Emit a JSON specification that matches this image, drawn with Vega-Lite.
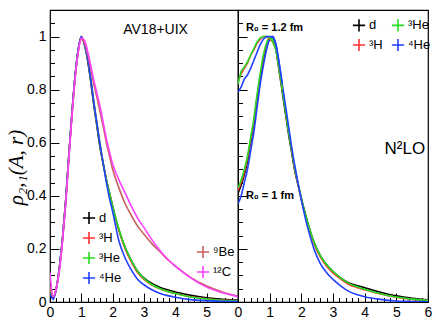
{
  "$schema": "https://vega.github.io/schema/vega-lite/v6.json",
  "padding": {"left": 4, "top": 8, "right": 0, "bottom": 0},
  "background": "white",
  "bounds": "flush",
  "datasets": {
    "left": [
      {"r":0,"d":0.04,"³H":0.05,"³He":0.05,"⁴He":0.03,"⁹Be":0.06,"¹²C":0.11},
      {"r":0.1,"d":0.015,"³H":0.02,"³He":0.02,"⁴He":0.01,"⁹Be":0.02,"¹²C":0.02},
      {"r":0.2,"d":0.05,"³H":0.05,"³He":0.05,"⁴He":0.05,"⁹Be":0.05,"¹²C":0.05},
      {"r":0.3,"d":0.13,"³H":0.13,"³He":0.13,"⁴He":0.13,"⁹Be":0.12,"¹²C":0.12},
      {"r":0.4,"d":0.24,"³H":0.24,"³He":0.24,"⁴He":0.24,"⁹Be":0.23,"¹²C":0.23},
      {"r":0.5,"d":0.38,"³H":0.38,"³He":0.38,"⁴He":0.38,"⁹Be":0.37,"¹²C":0.37},
      {"r":0.6,"d":0.55,"³H":0.55,"³He":0.55,"⁴He":0.55,"⁹Be":0.54,"¹²C":0.54},
      {"r":0.7,"d":0.71,"³H":0.71,"³He":0.71,"⁴He":0.71,"⁹Be":0.70,"¹²C":0.70},
      {"r":0.8,"d":0.85,"³H":0.85,"³He":0.85,"⁴He":0.85,"⁹Be":0.84,"¹²C":0.84},
      {"r":0.9,"d":0.95,"³H":0.95,"³He":0.95,"⁴He":0.95,"⁹Be":0.94,"¹²C":0.94},
      {"r":1.0,"d":1.0,"³H":1.0,"³He":1.0,"⁴He":1.0,"⁹Be":0.99,"¹²C":0.995},
      {"r":1.1,"d":0.97,"³H":0.97,"³He":0.97,"⁴He":0.97,"⁹Be":0.975,"¹²C":0.985},
      {"r":1.2,"d":0.91,"³H":0.92,"³He":0.92,"⁴He":0.92,"⁹Be":0.935,"¹²C":0.945},
      {"r":1.3,"d":0.83,"³H":0.84,"³He":0.84,"⁴He":0.84,"⁹Be":0.88,"¹²C":0.89},
      {"r":1.4,"d":0.74,"³H":0.75,"³He":0.75,"⁴He":0.75,"⁹Be":0.82,"¹²C":0.835},
      {"r":1.5,"d":0.66,"³H":0.67,"³He":0.67,"⁴He":0.67,"⁹Be":0.77,"¹²C":0.785},
      {"r":1.6,"d":0.58,"³H":0.59,"³He":0.59,"⁴He":0.59,"⁹Be":0.715,"¹²C":0.735},
      {"r":1.7,"d":0.52,"³H":0.52,"³He":0.52,"⁴He":0.52,"⁹Be":0.66,"¹²C":0.675},
      {"r":1.8,"d":0.46,"³H":0.46,"³He":0.46,"⁴He":0.45,"⁹Be":0.60,"¹²C":0.615},
      {"r":1.9,"d":0.41,"³H":0.41,"³He":0.41,"⁴He":0.39,"⁹Be":0.55,"¹²C":0.565},
      {"r":2.0,"d":0.36,"³H":0.36,"³He":0.36,"⁴He":0.34,"⁹Be":0.50,"¹²C":0.52},
      {"r":2.2,"d":0.27,"³H":0.27,"³He":0.275,"⁴He":0.23,"⁹Be":0.43,"¹²C":0.46},
      {"r":2.4,"d":0.205,"³H":0.2,"³He":0.205,"⁴He":0.165,"⁹Be":0.37,"¹²C":0.41},
      {"r":2.6,"d":0.155,"³H":0.15,"³He":0.155,"⁴He":0.12,"⁹Be":0.325,"¹²C":0.36},
      {"r":2.8,"d":0.115,"³H":0.11,"³He":0.115,"⁴He":0.085,"⁹Be":0.285,"¹²C":0.315},
      {"r":3.0,"d":0.09,"³H":0.085,"³He":0.088,"⁴He":0.065,"⁹Be":0.255,"¹²C":0.28},
      {"r":3.25,"d":0.07,"³H":0.064,"³He":0.066,"⁴He":0.046,"⁹Be":0.22,"¹²C":0.235},
      {"r":3.5,"d":0.056,"³H":0.05,"³He":0.051,"⁴He":0.033,"⁹Be":0.19,"¹²C":0.195},
      {"r":3.75,"d":0.046,"³H":0.04,"³He":0.04,"⁴He":0.024,"⁹Be":0.16,"¹²C":0.162},
      {"r":4.0,"d":0.038,"³H":0.032,"³He":0.032,"⁴He":0.018,"⁹Be":0.135,"¹²C":0.135},
      {"r":4.5,"d":0.025,"³H":0.02,"³He":0.019,"⁴He":0.009,"⁹Be":0.092,"¹²C":0.09},
      {"r":5.0,"d":0.016,"³H":0.012,"³He":0.011,"⁴He":0.005,"⁹Be":0.06,"¹²C":0.056},
      {"r":5.5,"d":0.01,"³H":0.007,"³He":0.006,"⁴He":0.003,"⁹Be":0.038,"¹²C":0.035},
      {"r":6.0,"d":0.006,"³H":0.004,"³He":0.003,"⁴He":0.002,"⁹Be":0.022,"¹²C":0.02}
    ],
    "r1": [
      {"r":0,"d":0.41,"³H":0.42,"³He":0.43,"⁴He":0.37},
      {"r":0.1,"d":0.44,"³H":0.45,"³He":0.46,"⁴He":0.40},
      {"r":0.2,"d":0.48,"³H":0.49,"³He":0.50,"⁴He":0.45},
      {"r":0.3,"d":0.53,"³H":0.54,"³He":0.55,"⁴He":0.50},
      {"r":0.4,"d":0.60,"³H":0.61,"³He":0.62,"⁴He":0.57},
      {"r":0.5,"d":0.67,"³H":0.68,"³He":0.69,"⁴He":0.64},
      {"r":0.6,"d":0.76,"³H":0.77,"³He":0.78,"⁴He":0.73},
      {"r":0.7,"d":0.84,"³H":0.85,"³He":0.86,"⁴He":0.82},
      {"r":0.8,"d":0.91,"³H":0.92,"³He":0.93,"⁴He":0.89},
      {"r":0.9,"d":0.96,"³H":0.97,"³He":0.975,"⁴He":0.95},
      {"r":1.0,"d":0.99,"³H":0.995,"³He":0.995,"⁴He":0.99},
      {"r":1.1,"d":1.0,"³H":0.995,"³He":0.99,"⁴He":1.0},
      {"r":1.2,"d":0.95,"³H":0.95,"³He":0.95,"⁴He":0.97},
      {"r":1.3,"d":0.87,"³H":0.88,"³He":0.88,"⁴He":0.90},
      {"r":1.4,"d":0.79,"³H":0.80,"³He":0.80,"⁴He":0.82},
      {"r":1.5,"d":0.71,"³H":0.72,"³He":0.72,"⁴He":0.74},
      {"r":1.6,"d":0.63,"³H":0.64,"³He":0.64,"⁴He":0.66},
      {"r":1.7,"d":0.56,"³H":0.565,"³He":0.57,"⁴He":0.58},
      {"r":1.8,"d":0.49,"³H":0.495,"³He":0.50,"⁴He":0.51},
      {"r":1.9,"d":0.44,"³H":0.44,"³He":0.445,"⁴He":0.445},
      {"r":2.0,"d":0.39,"³H":0.385,"³He":0.39,"⁴He":0.385},
      {"r":2.2,"d":0.30,"³H":0.295,"³He":0.30,"⁴He":0.28},
      {"r":2.4,"d":0.225,"³H":0.22,"³He":0.225,"⁴He":0.2},
      {"r":2.6,"d":0.175,"³H":0.17,"³He":0.175,"⁴He":0.145},
      {"r":2.8,"d":0.14,"³H":0.135,"³He":0.14,"⁴He":0.11},
      {"r":3.0,"d":0.115,"³H":0.11,"³He":0.115,"⁴He":0.085},
      {"r":3.25,"d":0.09,"³H":0.086,"³He":0.09,"⁴He":0.06},
      {"r":3.5,"d":0.072,"³H":0.066,"³He":0.07,"⁴He":0.04},
      {"r":3.75,"d":0.062,"³H":0.055,"³He":0.058,"⁴He":0.028},
      {"r":4.0,"d":0.054,"³H":0.046,"³He":0.048,"⁴He":0.02},
      {"r":4.5,"d":0.037,"³H":0.03,"³He":0.031,"⁴He":0.01},
      {"r":5.0,"d":0.023,"³H":0.018,"³He":0.019,"⁴He":0.004},
      {"r":5.5,"d":0.014,"³H":0.01,"³He":0.011,"⁴He":0.002},
      {"r":6.0,"d":0.008,"³H":0.006,"³He":0.006,"⁴He":0.001}
    ],
    "r12": [
      {"r":0,"³H":0.83,"³He":0.82,"⁴He":0.79},
      {"r":0.1,"³H":0.86,"³He":0.87,"⁴He":0.81},
      {"r":0.2,"³H":0.88,"³He":0.885,"⁴He":0.84},
      {"r":0.3,"³H":0.90,"³He":0.905,"⁴He":0.855},
      {"r":0.4,"³H":0.93,"³He":0.93,"⁴He":0.88},
      {"r":0.5,"³H":0.95,"³He":0.955,"⁴He":0.91},
      {"r":0.6,"³H":0.975,"³He":0.98,"⁴He":0.94},
      {"r":0.7,"³H":0.99,"³He":0.995,"⁴He":0.97},
      {"r":0.8,"³H":1.0,"³He":1.0,"⁴He":0.99},
      {"r":0.9,"³H":1.0,"³He":1.0,"⁴He":1.0},
      {"r":1.0,"³H":0.99,"³He":0.995,"⁴He":1.0},
      {"r":1.1,"³H":0.98,"³He":0.98,"⁴He":1.0},
      {"r":1.2,"³H":0.95,"³He":0.95,"⁴He":0.97},
      {"r":1.3,"³H":0.88,"³He":0.88,"⁴He":0.90},
      {"r":1.4,"³H":0.80,"³He":0.80,"⁴He":0.82}
    ]
  },
  "hconcat": [
    {
      "width": 188,
      "height": 292,
      "layer": [
        {
          "data": {"name": "left"},
          "transform": [{"fold": ["d", "³H", "³He", "⁴He"], "as": ["nucleus", "rho"]}],
          "mark": {"type": "line", "strokeWidth": 1.6, "interpolate": "monotone", "clip": true},
          "encoding": {
            "x": {"field": "r", "type": "quantitative", "scale": {"domain": [0, 6], "nice": false},
              "axis": {"title": null, "values": [0,1,2,3,4,5], "format": "d", "ticks": false, "domain": false,
                "labelPadding": 3, "labelOverlap": false, "labelFlush": false, "labelBound": false}},
            "y": {"field": "rho", "type": "quantitative", "scale": {"domain": [0, 1.1], "nice": false, "zero": false},
              "axis": {"title": "ρ₂,₁(A, r)", "titleFont": "Liberation Serif", "titleFontStyle": "italic", "titleFontWeight": "normal", "titleFontSize": 21,
                "titleX": -34, "titleY": 157, "titleBaseline": "middle",
                "values": [0,0.2,0.4,0.6,0.8,1], "labelExpr": "format(datum.value, '~g')", "ticks": false, "domain": false,
                "labelPadding": 4, "labelOverlap": false, "labelFlush": false, "labelBound": false}},
            "color": {"field": "nucleus", "type": "nominal",
              "scale": {"domain": ["d", "³H", "³He", "⁴He"], "range": ["#000000", "#ff3030", "#22dd22", "#2040ff"]},
              "legend": {"orient": "none", "legendX": 32, "legendY": 201, "title": null, "values": ["d", "³H", "³He", "⁴He"]}},
            "order": {"field": "r", "type": "quantitative"}
          }
        },
        {
          "data": {"name": "left"},
          "transform": [{"fold": ["⁹Be", "¹²C"], "as": ["nucleus", "rho"]}],
          "mark": {"type": "line", "strokeWidth": 1.6, "interpolate": "monotone", "clip": true},
          "encoding": {
            "x": {"field": "r", "type": "quantitative", "scale": {"domain": [0, 6], "nice": false},
              "axis": {"orient": "top", "offset": -292, "title": null, "labels": false, "domain": false,
                "values": [0,0.2,0.4,0.6,0.8,1,1.2,1.4,1.6,1.8,2,2.2,2.4,2.6,2.8,3,3.2,3.4,3.6,3.8,4,4.2,4.4,4.6,4.8,5,5.2,5.4,5.6,5.8,6],
                "tickSize": {"condition": {"test": "datum.value % 1 === 0", "value": 9}, "value": 4.5}}},
            "y": {"field": "rho", "type": "quantitative", "scale": {"domain": [0, 1.1], "nice": false, "zero": false},
              "axis": {"orient": "right", "offset": -188, "title": null, "labels": false, "domain": false,
                "values": [0,0.05,0.1,0.15,0.2,0.25,0.3,0.35,0.4,0.45,0.5,0.55,0.6,0.65,0.7,0.75,0.8,0.85,0.9,0.95,1,1.05,1.1],
                "tickSize": {"condition": {"test": "abs(datum.value*5 - round(datum.value*5)) < 0.001", "value": 9}, "value": 4.5}}},
            "color": {"field": "nucleus", "type": "nominal",
              "scale": {"domain": ["⁹Be", "¹²C"], "range": ["#c86060", "#ff40ff"]},
              "legend": {"orient": "none", "legendX": 146, "legendY": 235, "title": null, "values": ["⁹Be", "¹²C"]}},
            "order": {"field": "r", "type": "quantitative"}
          }
        },
        {
          "data": {"values": [{}]},
          "mark": {"type": "text", "font": "Liberation Sans", "fontSize": 14, "align": "center", "baseline": "middle"},
          "encoding": {
            "x": {"datum": 3.37, "type": "quantitative", "axis": null},
            "y": {"datum": 1.026, "type": "quantitative", "axis": null},
            "text": {"value": "AV18+UIX"}
          }
        }
      ],
      "resolve": {"scale": {"color": "independent"}, "axis": {"x": "independent", "y": "independent"}}
    },
    {
      "width": 190,
      "height": 292,
      "layer": [
        {
          "data": {"name": "r1"},
          "transform": [{"fold": ["d", "³H", "³He", "⁴He"], "as": ["nucleus", "rho"]}],
          "mark": {"type": "line", "strokeWidth": 1.6, "interpolate": "monotone", "clip": true},
          "encoding": {
            "x": {"field": "r", "type": "quantitative", "scale": {"domain": [0, 6], "nice": false},
              "axis": {"title": null, "values": [0,1,2,3,4,5,6], "format": "d", "ticks": false, "domain": false,
                "labelPadding": 3, "labelOverlap": false, "labelFlush": false, "labelBound": false}},
            "y": {"field": "rho", "type": "quantitative", "scale": {"domain": [0, 1.1], "nice": false, "zero": false},
              "axis": {"orient": "right", "offset": -190, "title": null, "labels": false, "domain": false,
                "values": [0,0.05,0.1,0.15,0.2,0.25,0.3,0.35,0.4,0.45,0.5,0.55,0.6,0.65,0.7,0.75,0.8,0.85,0.9,0.95,1,1.05,1.1],
                "tickSize": {"condition": {"test": "abs(datum.value*5 - round(datum.value*5)) < 0.001", "value": 9}, "value": 4.5}}},
            "color": {"field": "nucleus", "type": "nominal",
              "scale": {"domain": ["d", "³H", "³He", "⁴He"], "range": ["#000000", "#ff3030", "#22dd22", "#2040ff"]},
              "legend": {"orient": "none", "legendX": 302, "legendY": 8, "title": null, "columns": 2, "columnPadding": 5,
                "values": ["d", "³H", "³He", "⁴He"]}},
            "order": {"field": "r", "type": "quantitative"}
          }
        },
        {
          "data": {"name": "r12"},
          "transform": [{"fold": ["³H", "³He", "⁴He"], "as": ["nucleus", "rho"]}],
          "mark": {"type": "line", "strokeWidth": 1.6, "interpolate": "linear", "clip": true},
          "encoding": {
            "x": {"field": "r", "type": "quantitative", "scale": {"domain": [0, 6], "nice": false},
              "axis": {"orient": "top", "offset": -292, "title": null, "labels": false, "domain": false,
                "values": [0,0.2,0.4,0.6,0.8,1,1.2,1.4,1.6,1.8,2,2.2,2.4,2.6,2.8,3,3.2,3.4,3.6,3.8,4,4.2,4.4,4.6,4.8,5,5.2,5.4,5.6,5.8,6],
                "tickSize": {"condition": {"test": "datum.value % 1 === 0", "value": 9}, "value": 4.5}}},
            "y": {"field": "rho", "type": "quantitative", "scale": {"domain": [0, 1.1], "nice": false, "zero": false}, "axis": null},
            "color": {"field": "nucleus", "type": "nominal",
              "scale": {"domain": ["d", "³H", "³He", "⁴He"], "range": ["#000000", "#ff3030", "#22dd22", "#2040ff"]}},
            "order": {"field": "r", "type": "quantitative"}
          }
        },
        {
          "data": {"values": [{}]},
          "mark": {"type": "text", "font": "Liberation Sans", "fontSize": 11, "fontWeight": "bold", "align": "left", "baseline": "middle"},
          "encoding": {
            "x": {"datum": 0.25, "type": "quantitative", "axis": null},
            "y": {"datum": 1.034, "type": "quantitative", "axis": null},
            "text": {"value": "R₀ = 1.2 fm"}
          }
        },
        {
          "data": {"values": [{}]},
          "mark": {"type": "text", "font": "Liberation Sans", "fontSize": 11, "fontWeight": "bold", "align": "left", "baseline": "middle"},
          "encoding": {
            "x": {"datum": 0.25, "type": "quantitative", "axis": null},
            "y": {"datum": 0.4, "type": "quantitative", "axis": null},
            "text": {"value": "R₀ = 1 fm"}
          }
        },
        {
          "data": {"values": [{}]},
          "mark": {"type": "text", "font": "Liberation Sans", "fontSize": 17, "align": "center", "baseline": "middle"},
          "encoding": {
            "x": {"datum": 5.27, "type": "quantitative", "axis": null},
            "y": {"datum": 0.575, "type": "quantitative", "axis": null},
            "text": {"value": "N²LO"}
          }
        }
      ],
      "resolve": {"axis": {"x": "independent", "y": "independent"}}
    }
  ],
  "config": {
    "view": {"stroke": "black", "strokeWidth": 1.2},
    "concat": {"spacing": 0},
    "axis": {"grid": false, "domainColor": "black", "tickColor": "black", "tickWidth": 1,
      "labelColor": "black", "labelFont": "Liberation Sans", "labelFontSize": 14},
    "legend": {"symbolType": "M-1,0H1M0,-1V1", "symbolSize": 150, "symbolStrokeWidth": 1.6, "labelFont": "Liberation Sans",
      "labelFontSize": 13, "labelColor": "black", "rowPadding": 0, "labelOffset": 3, "padding": 0}
  }
}
